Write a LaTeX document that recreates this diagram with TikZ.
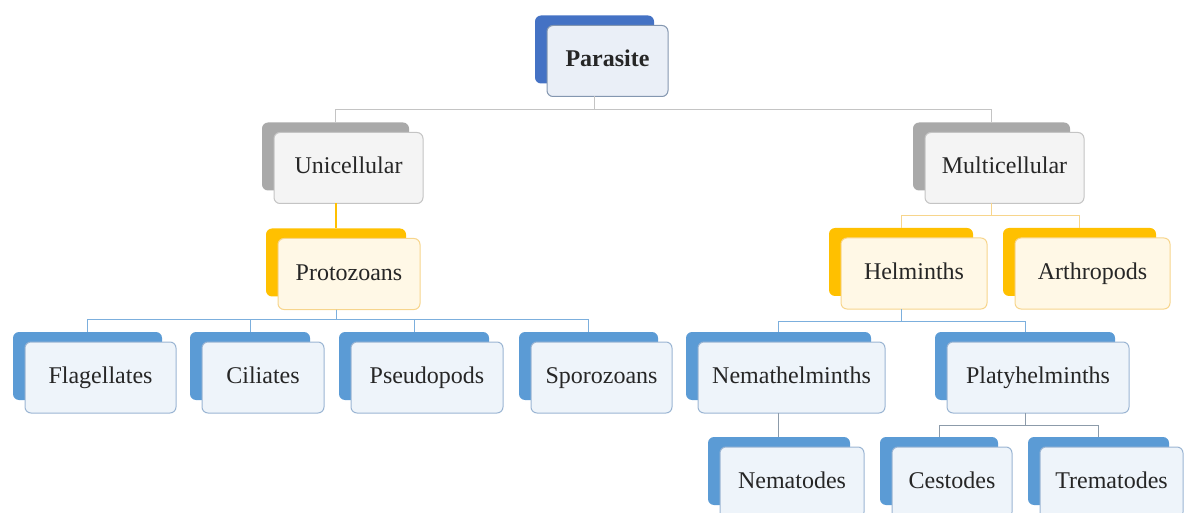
\documentclass[tikz,border=0pt]{standalone}
\usepackage{fontspec}
\setmainfont{Liberation Serif}
\usetikzlibrary{calc, positioning}

\definecolor{darkback}{HTML}{4472C4}
\definecolor{darkline}{HTML}{8497B0}
\definecolor{darkfill}{HTML}{EAEFF7}
\definecolor{greyback}{HTML}{A9A9A9}
\definecolor{greyline}{HTML}{C4C4C4}
\definecolor{greyfill}{HTML}{F4F4F4}
\definecolor{goldback}{HTML}{FFC000}
\definecolor{goldline}{HTML}{F7D58C}
\definecolor{goldfill}{HTML}{FFF8E6}
\definecolor{blueback}{HTML}{5B9BD5}
\definecolor{blueline}{HTML}{9BB5D3}
\definecolor{bluefill}{HTML}{EEF4FA}
\definecolor{lowlink}{HTML}{8C9BAA}

\begin{document}
\begin{tikzpicture}[
    x=1pt, y=-1pt,
    backcard/.style={fill=#1back, rounded corners=6pt, minimum height=68pt, inner sep=0pt, outer sep=0pt},
    frontcard/.style={draw=#1line, fill=#1fill, line width=1pt, rounded corners=6pt, minimum height=71pt,
        inner sep=0pt, outer sep=0pt, text height=17pt, text depth=5pt,
        text=black!85, font=\fontsize{24}{28}\selectfont},
    link/.style={draw=#1, line width=1pt}
]

    \useasboundingbox (0,0) rectangle (1184,513);

    % Cards: name / x / y / width / colour / text (front card centre, back card sits up left)
    \foreach \nm/\px/\py/\w/\col/\txt in {
        par/607.5/61/121/dark/\textbf{Parasite},
        uni/348.5/168/149/grey/Unicellular,
        mul/1004.5/168/159/grey/Multicellular,
        pro/349/274/142/gold/Protozoans,
        hel/914/273.5/146/gold/Helminths,
        art/1092.5/273.5/155/gold/Arthropods,
        fla/100.5/377.5/151/blue/Flagellates,
        cil/263/377.5/122/blue/Ciliates,
        pse/427/377.5/152/blue/Pseudopods,
        spo/601.5/377.5/141/blue/Sporozoans,
        nem/791.5/377.5/187/blue/Nemathelminths,
        pla/1038/377.5/182/blue/Platyhelminths,
        nmt/792/482.5/144/blue/Nematodes,
        ces/952/482.5/120/blue/Cestodes,
        tre/1111.5/482.5/143/blue/Trematodes} {
        \node[backcard=\col, minimum width=\w pt - 2pt] (\nm b) at (\px-13, \py-11.5) {};
        \node[frontcard=\col, minimum width=\w pt] (\nm) at (\px, \py) {\txt};
    }

    % Parasite -> Unicellular, Multicellular
    \foreach \c in {unib, mulb}
        \draw[link=greyline] (parb.south |- par.south) -- ++(0,13) -| (\c.north);

    % Unicellular -> Protozoans
    \draw[link=goldback, line width=2pt] (unib.south |- uni.south) -- (unib.south |- prob.north);

    % Multicellular -> Helminths, Arthropods
    \foreach \c in {helb, artb}
        \draw[link=goldline] (mulb.south |- mul.south) -- ++(0,12) -| (\c.north);

    % Protozoans -> four groups
    \foreach \c in {flab, cilb, pseb, spob}
        \draw[link=blueback!80] (prob.south |- pro.south) -- ++(0,10) -| (\c.north);

    % Helminths -> Nemathelminths, Platyhelminths
    \foreach \c in {nemb, plab}
        \draw[link=blueback!80] (helb.south |- hel.south) -- ++(0,12) -| (\c.north);

    % lowest level
    \draw[link=lowlink] (nemb.south |- nem.south) -- (nemb.south |- nmtb.north);
    \foreach \c in {cesb, treb}
        \draw[link=lowlink] (plab.south |- pla.south) -- ++(0,12) -| (\c.north);

\end{tikzpicture}
\end{document}
